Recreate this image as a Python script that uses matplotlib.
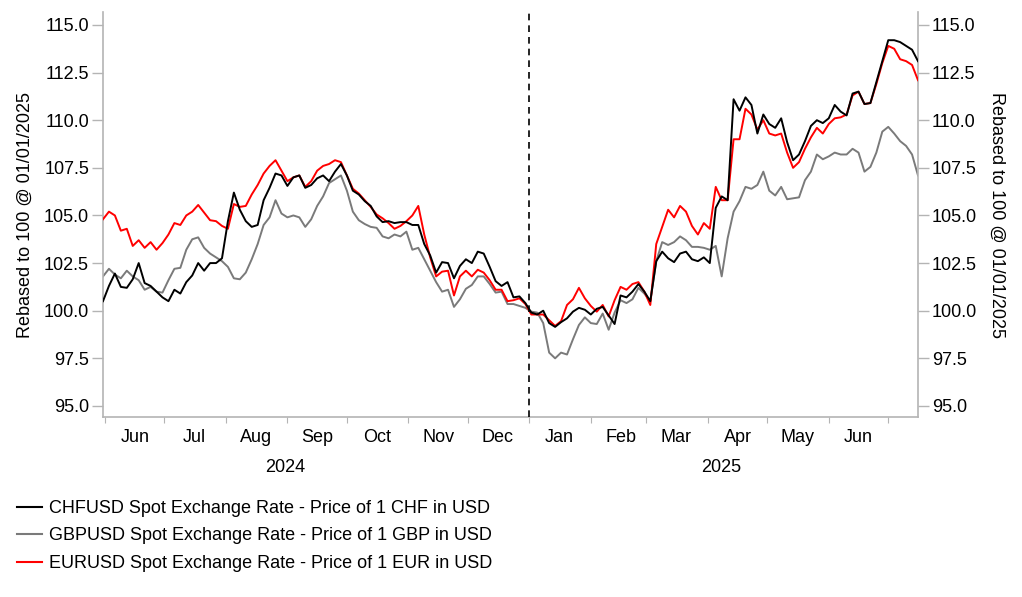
import matplotlib
matplotlib.use("Agg")
import matplotlib.pyplot as plt
import matplotlib.dates as mdates
import matplotlib.ticker as mticker
import pandas as pd
import numpy as np
from matplotlib.lines import Line2D

plt.rcParams['font.family'] = ['Liberation Sans', 'DejaVu Sans']

dates = pd.date_range('2024-05-31', '2025-07-16', freq='3D')

chf = [100.5, 101.3, 101.95, 101.25, 101.2, 101.65, 102.5, 101.45, 101.3, 101.0,
       100.7, 100.5, 101.1, 100.9, 101.5, 101.85, 102.5, 102.1, 102.5, 102.5,
       102.75, 104.7, 106.2, 105.3, 104.7, 104.4, 104.5, 105.8, 106.45, 107.2,
       107.1, 106.55, 107.0, 107.1, 106.45, 106.6, 106.95, 107.1, 106.8, 107.3,
       107.7, 107.1, 106.3, 106.1, 105.75, 105.5, 104.95, 104.65, 104.7, 104.6,
       104.65, 104.65, 104.5, 104.5, 103.5, 102.9, 102.0, 102.55, 102.5, 101.7,
       102.35, 102.7, 102.5, 103.1, 103.0, 102.3, 101.55, 101.3, 101.5, 100.7,
       100.75, 100.4, 99.9, 99.8, 100.0, 99.35, 99.15, 99.4, 99.6, 99.95,
       100.15, 100.05, 99.8, 100.1, 100.2, 99.75, 99.3, 100.8, 100.7, 101.0,
       101.4, 101.0, 100.5, 102.6, 103.1, 102.75, 102.55, 103.0, 103.1, 102.7,
       102.6, 102.8, 102.5, 105.4, 106.0, 105.8, 111.1, 110.5, 111.2, 110.8,
       109.3, 110.3, 109.8, 109.6, 110.1, 108.85, 107.9, 108.2, 108.9, 109.7,
       110.0, 109.85, 110.1, 110.8, 110.45, 110.25, 111.4, 111.5, 110.85, 110.9,
       112.0, 113.1, 114.2, 114.2, 114.1, 113.9, 113.7, 113.1]

gbp = [101.8, 102.2, 101.9, 101.7, 102.1, 101.8, 101.6, 101.1, 101.25, 101.0,
       100.95, 101.6, 102.2, 102.25, 103.2, 103.75, 103.85, 103.3, 103.0, 102.8,
       102.6, 102.3, 101.7, 101.65, 102.0, 102.7, 103.5, 104.5, 104.9, 105.8,
       105.1, 104.9, 105.0, 104.9, 104.4, 104.8, 105.5, 106.0, 106.7, 106.9,
       107.1, 106.3, 105.2, 104.75, 104.55, 104.4, 104.35, 103.9, 103.8, 104.0,
       103.9, 104.15, 103.2, 103.3, 102.7, 102.1, 101.5, 101.0, 101.1, 100.2,
       100.6, 101.15, 101.35, 101.8, 101.8, 101.4, 100.95, 101.0, 100.35, 100.35,
       100.25, 100.15, 99.95, 99.9, 99.35, 97.8, 97.5, 97.8, 97.7, 98.5,
       99.25, 99.65, 99.35, 99.3, 99.85, 99.0, 99.9, 100.55, 100.4, 100.6,
       101.2, 100.9, 100.5, 102.6, 103.6, 103.45, 103.6, 103.9, 103.7, 103.35,
       103.35, 103.3, 103.2, 103.4, 101.8, 103.8, 105.2, 105.75, 106.5, 106.4,
       106.6, 107.3, 106.3, 106.05, 106.5, 105.85, 105.9, 105.95, 106.85, 107.3,
       108.2, 107.95, 108.1, 108.3, 108.2, 108.2, 108.5, 108.3, 107.3, 107.55,
       108.3, 109.4, 109.65, 109.3, 108.9, 108.65, 108.2, 107.1]

eur = [104.8, 105.2, 105.0, 104.2, 104.3, 103.4, 103.7, 103.3, 103.6, 103.2,
       103.55, 104.0, 104.6, 104.5, 105.0, 105.2, 105.55, 105.15, 104.75, 104.7,
       104.45, 104.3, 105.6, 105.45, 105.5, 106.1, 106.6, 107.2, 107.6, 107.9,
       107.35, 106.8, 107.0, 107.1, 106.5, 106.8, 107.35, 107.6, 107.7, 107.9,
       107.8, 107.1, 106.4, 106.15, 105.8, 105.45, 105.05, 104.85, 104.6, 104.3,
       104.45, 104.7, 105.0, 105.5, 104.0, 102.8, 101.8, 102.05, 102.1, 100.8,
       101.8, 102.1, 101.8, 102.15, 102.0, 101.6, 101.1, 101.1, 100.5, 100.55,
       100.65, 100.35, 99.8, 99.8, 99.8, 99.5, 99.2, 99.45, 100.3, 100.6,
       101.2, 100.65, 100.25, 99.95, 100.3, 99.7, 100.55, 101.25, 101.1, 101.4,
       101.5, 101.0, 100.3, 103.5, 104.4, 105.3, 104.9, 105.5, 105.2, 104.45,
       104.0, 104.6, 104.3, 106.5, 105.8, 105.8, 109.0, 109.0, 110.6, 110.3,
       109.5, 110.0, 109.3, 109.2, 109.3, 108.3, 107.5, 107.8, 108.5, 109.1,
       109.6, 109.3, 109.8, 110.1, 110.15, 110.3, 111.3, 111.5, 110.85, 110.9,
       111.9, 113.0, 113.9, 113.75, 113.2, 113.1, 112.9, 112.1]

labels = ["CHFUSD Spot Exchange Rate - Price of 1 CHF in USD",
          "GBPUSD Spot Exchange Rate - Price of 1 GBP in USD",
          "EURUSD Spot Exchange Rate - Price of 1 EUR in USD"]
colors = ["#000000", "#7a7a7a", "#ff0000"]
yticks = [95.0, 97.5, 100.0, 102.5, 105.0, 107.5, 110.0, 112.5, 115.0]
month_labels = ["Jun", "Jul", "Aug", "Sep", "Oct", "Nov", "Dec",
                "Jan", "Feb", "Mar", "Apr", "May", "Jun"]
month_label_dates = pd.date_range('2024-06-01', '2025-06-01', freq='MS') + pd.Timedelta(days=15)
year_labels = ["2024", "2025"]
year_label_dates = [pd.Timestamp('2024-08-31'), pd.Timestamp('2025-04-08')]
ylabel = "Rebased to 100 @ 01/01/2025"

FS = 13
fig = plt.figure(figsize=(10.22, 5.97), dpi=100)
ax = fig.add_axes([103/1022, 1-417/597, (918-103)/1022, (417-12)/597])

ax.plot(dates, gbp, color=colors[1], lw=1.4, zorder=2)
ax.plot(dates, eur, color=colors[2], lw=1.4, zorder=3)
ax.plot(dates, chf, color=colors[0], lw=1.4, zorder=4)
ax.axvline(pd.Timestamp('2025-01-01'), color='black', ls=(0, (4, 3)), lw=1.2, zorder=5)

ax.set_xlim(pd.Timestamp('2024-05-31'), pd.Timestamp('2025-07-16'))
ax.set_ylim(94.42, 115.68)

ax.set_yticks(yticks)
ax.set_yticklabels([f"{v:.1f}" for v in yticks])
spine_c = "#b4b4b4"
ax.spines['top'].set_visible(False)
for s in ['left', 'right', 'bottom']:
    ax.spines[s].set_color(spine_c)
    ax.spines[s].set_linewidth(1.2)
ax.tick_params(axis='y', which='both', length=8, width=1.0, color=spine_c, labelsize=FS,
               left=True, right=True, labelleft=True, labelright=True, pad=2)

# x axis: month boundary ticks, labels at mid-month
ax.xaxis.set_major_locator(mdates.MonthLocator(bymonthday=1))
ax.xaxis.set_major_formatter(mticker.NullFormatter())
ax.tick_params(axis='x', which='major', length=4, color=spine_c)
ax.xaxis.set_minor_locator(mticker.FixedLocator(mdates.date2num(month_label_dates)))
ax.xaxis.set_minor_formatter(mticker.FixedFormatter(month_labels))
ax.tick_params(axis='x', which='minor', length=0, labelsize=FS, pad=9)

for lab, d in zip(year_labels, year_label_dates):
    ax.text(d, -(468-417)/405, lab, transform=ax.get_xaxis_transform(),
            ha='center', va='center', fontsize=FS)

fig.text(25/1022, 1-215/597, ylabel, rotation=90, ha='center', va='center', fontsize=FS)
fig.text(997/1022, 1-215/597, ylabel, rotation=-90, ha='center', va='center', fontsize=FS)

handles = [Line2D([0], [0], color=c, lw=1.5) for c in colors]
fig.legend(handles, labels, loc='upper left', bbox_to_anchor=(17/1022, 1-500/597),
           frameon=False, fontsize=FS, handlelength=1.4, handletextpad=0.35,
           labelspacing=0.58, borderaxespad=0, borderpad=0)

fig.savefig("out.png", dpi=100)
